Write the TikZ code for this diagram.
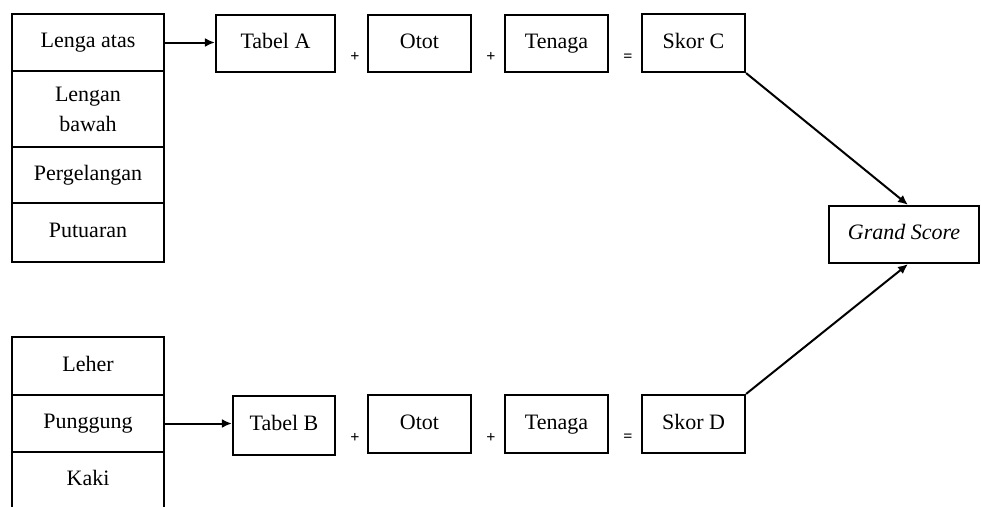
\documentclass[tikz,border=0pt]{standalone}
\usepackage{fontspec}
\setmainfont{Liberation Serif}
\usetikzlibrary{arrows.meta,calc}
\tikzset{
  cell/.style={draw, line width=2.2pt, minimum width=152pt, inner sep=0pt, align=center, font=\fontsize{22}{30}\selectfont},
  box/.style={draw, line width=2.2pt, minimum width=103pt, minimum height=57pt, inner sep=0pt, text height=15pt, text depth=5pt, font=\fontsize{22}{30}\selectfont},
  op/.style={inner sep=0pt, font=\fontsize{16}{16}\selectfont\bfseries},
  conn/.style={line width=2pt, -{Latex[length=10pt,width=9pt]}},
}
\begin{document}
\begin{tikzpicture}[x=1pt,y=-1pt]
\useasboundingbox (0,0) rectangle (981,506);
\clip (0,0) rectangle (981,506);
% left column top
\node[cell, minimum height=57pt, text height=15pt, text depth=5pt] (la) at (88,42.5) {Lenga atas};
\node[cell, minimum height=76pt] (lb) at (88,109) {Lengan\\bawah};
\node[cell, minimum height=56pt, text height=15pt, text depth=5pt] (pl) at (88,175) {Pergelangan};
\node[cell, minimum height=59pt, text height=15pt, text depth=5pt] (pu) at (88,232.5) {Putuaran};
% left column bottom
\node[cell, minimum height=58pt, text height=15pt, text depth=5pt] (le) at (88,366) {Leher};
\node[cell, minimum height=57pt, text height=15pt, text depth=5pt] (pg) at (88,423.5) {Punggung};
\node[cell, minimum height=57pt, text height=15pt, text depth=5pt] (kk) at (88,480.5) {Kaki};
% top row
\node[box, minimum width=119pt] (ta) at (275.5,43.5) {Tabel A};
\node[box] (oa) at (419.5,43.5) {Otot};
\node[box] (tna) at (556.5,43.5) {Tenaga};
\node[box, minimum height=58pt] (sc) at (693.5,43) {Skor C};
\node[op] (p1) at (355,57) {+};
\node[op] (p2) at (491,57) {+};
\node[op] (e1) at (628,58) {=};
% bottom row
\node[box, minimum width=102pt, minimum height=59pt] (tb) at (284,425.5) {Tabel B};
\node[box, minimum height=58pt] (ob) at (419.5,424) {Otot};
\node[box, minimum height=58pt] (tnb) at (556.5,424) {Tenaga};
\node[box, minimum height=58pt] (sd) at (693.5,424) {Skor D};
\node[op] (p3) at (355,438) {+};
\node[op] (p4) at (491,438) {+};
\node[op] (e2) at (628,438) {=};
% grand score
\node[box, minimum width=150pt] (gs) at (904,234.5) {\itshape Grand Score};
% connectors
\draw[conn] (la.east) -- (la.east -| ta.west);
\draw[conn] (pg.east) -- (pg.east -| tb.west);
\draw[conn] (sc.south east) -- ($(gs.north)+(4,0)$);
\draw[conn] (sd.north east) -- ($(gs.south)+(4,0)$);
\end{tikzpicture}
\end{document}
